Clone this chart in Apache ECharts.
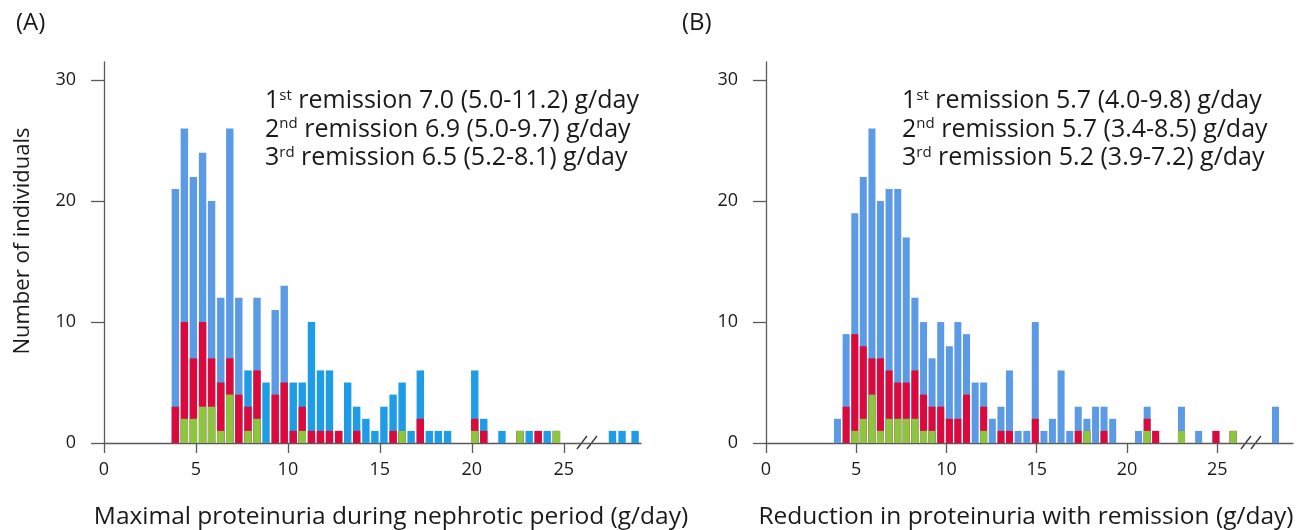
<!DOCTYPE html>
<html><head><meta charset="utf-8">
<script src="https://cdn.jsdelivr.net/npm/echarts@6/dist/echarts.min.js"></script>
<style>html,body{margin:0;padding:0;background:#fff}#c{width:1301px;height:530px}</style>
</head><body><div id="c"></div>
<script>
// ---------- data ----------
const xTickValues = [0, 5, 10, 15, 20, 25];
const yTickValues = [0, 10, 20, 30];
const seriesNames = ['1st remission', '2nd remission', '3rd remission'];

// Panel A: maximal proteinuria (g/day), bin centres and counts per remission
const binsA  = [3.88,4.37,4.86,5.36,5.85,6.35,6.84,7.33,7.83,8.32,8.81,9.31,9.80,10.29,10.78,11.28,11.77,12.26,12.76,13.25,13.74,14.24,14.73,15.22,15.72,16.21,16.70,17.20,17.69,18.18,18.68,20.16,20.65,21.64,22.62,23.12,23.61,24.10,24.60,27.65,28.17,28.88];
const thirdA = [0,2,2,3,3,1,4,0,1,2,0,0,0,0,1,0,0,0,0,0,0,0,0,0,0,1,0,0,0,0,0,1,0,0,1,0,0,0,1,0,0,0];
const secondA= [3,8,5,7,4,4,3,4,2,4,0,4,5,1,2,1,1,1,1,0,1,0,0,0,1,0,0,2,0,0,0,1,1,0,0,0,1,0,0,0,0,0];
const firstA = [18,16,15,14,13,7,19,8,3,6,5,7,8,4,2,9,5,5,0,5,2,2,1,3,3,4,1,4,1,1,1,4,1,1,0,1,0,1,0,1,1,1];

// Panel B: reduction in proteinuria (g/day)
const binsB  = [3.96,4.44,4.92,5.39,5.87,6.34,6.82,7.30,7.77,8.25,8.73,9.20,9.68,10.16,10.63,11.11,11.59,12.06,12.54,13.02,13.49,13.97,14.45,14.92,15.40,15.87,16.35,16.83,17.30,17.78,18.26,18.73,19.21,20.64,21.12,21.59,23.02,23.97,24.93,25.88,28.23];
const thirdB = [0,0,1,2,4,1,2,2,2,2,1,1,0,0,0,0,0,1,0,0,0,0,0,0,0,0,0,0,0,1,0,0,0,0,1,0,1,0,0,1,0];
const secondB= [0,3,8,6,3,6,4,3,3,4,3,2,3,2,2,4,0,2,0,1,1,0,0,2,0,0,0,0,1,0,0,1,0,0,1,1,0,0,1,0,0];
const firstB = [2,6,10,14,19,13,15,16,12,6,6,4,7,6,8,5,5,2,2,2,5,1,1,8,1,2,6,1,2,1,3,2,2,1,1,0,2,1,0,0,3];

const breakA = 26.26, breakB = 26.87;

const annotA = [['1','st',' remission 7.0 (5.0-11.2) g/day'],['2','nd',' remission 6.9 (5.0-9.7) g/day'],['3','rd',' remission 6.5 (5.2-8.1) g/day']];
const annotB = [['1','st',' remission 5.7 (4.0-9.8) g/day'],['2','nd',' remission 5.7 (3.4-8.5) g/day'],['3','rd',' remission 5.2 (3.9-7.2) g/day']];
const xTitleA = 'Maximal proteinuria during nephrotic period (g/day)';
const xTitleB = 'Reduction in proteinuria with remission (g/day)';
const yTitle = 'Number of individuals';

// ---------- style ----------
const FONT = 'Open Sans';
const TXT = '#1a1a1a';
const AX = '#5a5a5a';
const GREEN = '#8cc63f', RED = '#dc0a3c', BLUE = '#5b9be6', BLUE2 = '#1e9de6';
const brightA = i => i === 8 || i === 10 || i >= 13;

const chart = echarts.init(document.getElementById('c'), null, {renderer: 'canvas'});

function xAxisCfg(gi) {
  return {
    type: 'value', gridIndex: gi, min: 0, max: 29.2,
    axisLine: {show: true, onZero: false, lineStyle: {color: AX, width: 1.3}},
    axisTick: {show: true, length: 10, customValues: xTickValues, lineStyle: {color: AX, width: 1.3}},
    axisLabel: {customValues: xTickValues, fontFamily: FONT, fontSize: 18, color: TXT, margin: 18},
    splitLine: {show: false}
  };
}
function yAxisCfg(gi) {
  return {
    type: 'value', gridIndex: gi, min: 0, max: 31.5,
    axisLine: {show: true, lineStyle: {color: AX, width: 1.3}},
    axisTick: {show: true, length: 13, customValues: yTickValues, lineStyle: {color: AX, width: 1.3}},
    axisLabel: {customValues: yTickValues, fontFamily: FONT, fontSize: 18, color: TXT, margin: 28},
    splitLine: {show: false}
  };
}
// Stacked look: draw cumulative totals overlapping (1st on top of 2nd on top of 3rd)
function stackSeries(gi, bins, third, second, first, blueColor, barW) {
  const cum = [
    bins.map((x, i) => [x, third[i] + second[i] + first[i]]),
    bins.map((x, i) => [x, third[i] + second[i]]),
    bins.map((x, i) => [x, third[i]])
  ];
  const colors = [blueColor, RED, GREEN];
  return cum.map((d, k) => ({
    type: 'bar', name: seriesNames[k], xAxisIndex: gi, yAxisIndex: gi,
    barWidth: barW, barGap: '-100%', silent: true, animation: false,
    data: d, itemStyle: {color: colors[k]}
  }));
}

const seriesA = stackSeries(0, binsA, thirdA, secondA, firstA, p => brightA(p.dataIndex) ? BLUE2 : BLUE, 7.4);
const seriesB = stackSeries(1, binsB, thirdB, secondB, firstB, BLUE, 7);

chart.setOption({
  backgroundColor: '#fff',
  animation: false,
  grid: [
    {left: 104, top: 62, width: 537, height: 381},
    {left: 766, top: 62, width: 527, height: 381}
  ],
  xAxis: [xAxisCfg(0), xAxisCfg(1)],
  yAxis: [yAxisCfg(0), yAxisCfg(1)],
  series: seriesA.concat(seriesB)
});

function annotText(lines, x, y0) {
  return lines.map((l, i) => ({
    type: 'text', x: x, y: y0 + i * 28.5,
    style: {
      text: '{n|' + l[0] + '}{s|' + l[1] + '}{n|' + l[2] + '}',
      textVerticalAlign: 'middle',
      rich: {
        n: {fontFamily: FONT, fontSize: 25, fill: TXT, color: TXT, lineHeight: 30},
        s: {fontFamily: FONT, fontSize: 15, fill: TXT, color: TXT, lineHeight: 30, verticalAlign: 'top', padding: [2, 0, 0, 0]}
      }
    }
  }));
}
function breakMark(gi, v) {
  const p = chart.convertToPixel({xAxisIndex: gi, yAxisIndex: gi}, [v, 0]);
  const cx = p[0], cy = p[1];
  return [
    {type: 'rect', shape: {x: cx - 5, y: cy - 3, width: 10, height: 6}, style: {fill: '#fff'}},
    {type: 'line', shape: {x1: cx - 10, y1: cy + 6, x2: cx, y2: cy - 7}, style: {stroke: '#333', lineWidth: 1.3}},
    {type: 'line', shape: {x1: cx, y1: cy + 6, x2: cx + 10, y2: cy - 7}, style: {stroke: '#333', lineWidth: 1.3}}
  ];
}

const g = [];
g.push({type: 'text', x: 16, y: 23, style: {text: '(A)', font: '24px "' + FONT + '"', fill: TXT, textVerticalAlign: 'middle'}});
g.push({type: 'text', x: 682, y: 23, style: {text: '(B)', font: '24px "' + FONT + '"', fill: TXT, textVerticalAlign: 'middle'}});
g.push({type: 'text', x: 23, y: 241, rotation: Math.PI / 2, style: {text: yTitle, font: '22px "' + FONT + '"', fill: TXT, textAlign: 'center', textVerticalAlign: 'middle'}});
g.push({type: 'text', x: 391, y: 517, style: {text: xTitleA, font: '24.5px "' + FONT + '"', fill: TXT, textAlign: 'center', textVerticalAlign: 'middle'}});
g.push({type: 'text', x: 1026, y: 517, style: {text: xTitleB, font: '24.5px "' + FONT + '"', fill: TXT, textAlign: 'center', textVerticalAlign: 'middle'}});
annotText(annotA, 265, 101).forEach(e => g.push(e));
annotText(annotB, 902, 101).forEach(e => g.push(e));
breakMark(0, breakA).forEach(e => g.push(e));
breakMark(1, breakB).forEach(e => g.push(e));

chart.setOption({graphic: g});
</script>
</body></html>
